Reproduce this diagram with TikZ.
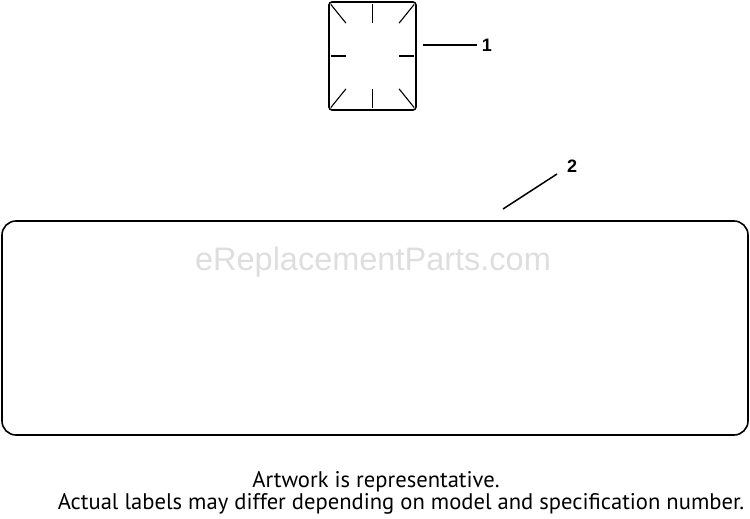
\documentclass[tikz,border=0pt]{standalone}
\usepackage{fontspec}
\setmainfont{PT Sans}
\newfontfamily\numfont{Liberation Sans}
\usetikzlibrary{positioning,calc}

\tikzset{
  decal/.style={draw, line width=1.6pt, rounded corners=#1, inner sep=0pt},
  cutmark/.style={line width=1.1pt},
  leader/.style={line width=1.5pt},
  callout/.style={font=\numfont\bfseries\fontsize{18}{18}\selectfont, inner sep=0pt},
  notetext/.style={font=\fontsize{22.6}{22}\selectfont, anchor=base, inner sep=0pt},
}

\begin{document}
\begin{tikzpicture}[x=1pt,y=-1pt]
    \useasboundingbox (0,0) rectangle (750,519);

    %small label with cut marks
    \node[decal=3pt, minimum width=87pt, minimum height=108pt] (lbl) at (372.5,56) {};
    \foreach \a in {north west,north,north east,west,east,south west,south,south east}
        \draw[cutmark] ($(lbl.\a)!0.06!(lbl.center)$) -- ($(lbl.\a)!0.4!(lbl.center)$);

    \node[callout] (num1) at (487,45) {1};
    \draw[leader, shorten <=6pt, shorten >=5pt] (num1.west -| lbl.east) -- (num1.west);

    %large label
    \node[decal=14pt, minimum width=746pt, minimum height=214pt] (big) at (375,328) {};
    \node[text=black!13, font=\numfont\fontsize{32.5}{32.5}\selectfont] (mark) at (373,262) {eReplacementParts.com};

    \coordinate (tip2) at (503,209);
    \coordinate (end2) at (557,174);
    \node[callout, right=10pt of end2, yshift=8pt] (num2) {2};
    \draw[leader] (tip2) -- (end2);

    %note
    \node[notetext] (note1) at (376,487) {Artwork is representative.};
    \node[notetext] (note2) at (401,509) {Actual labels may differ depending on model and specification number.};
\end{tikzpicture}
\end{document}
